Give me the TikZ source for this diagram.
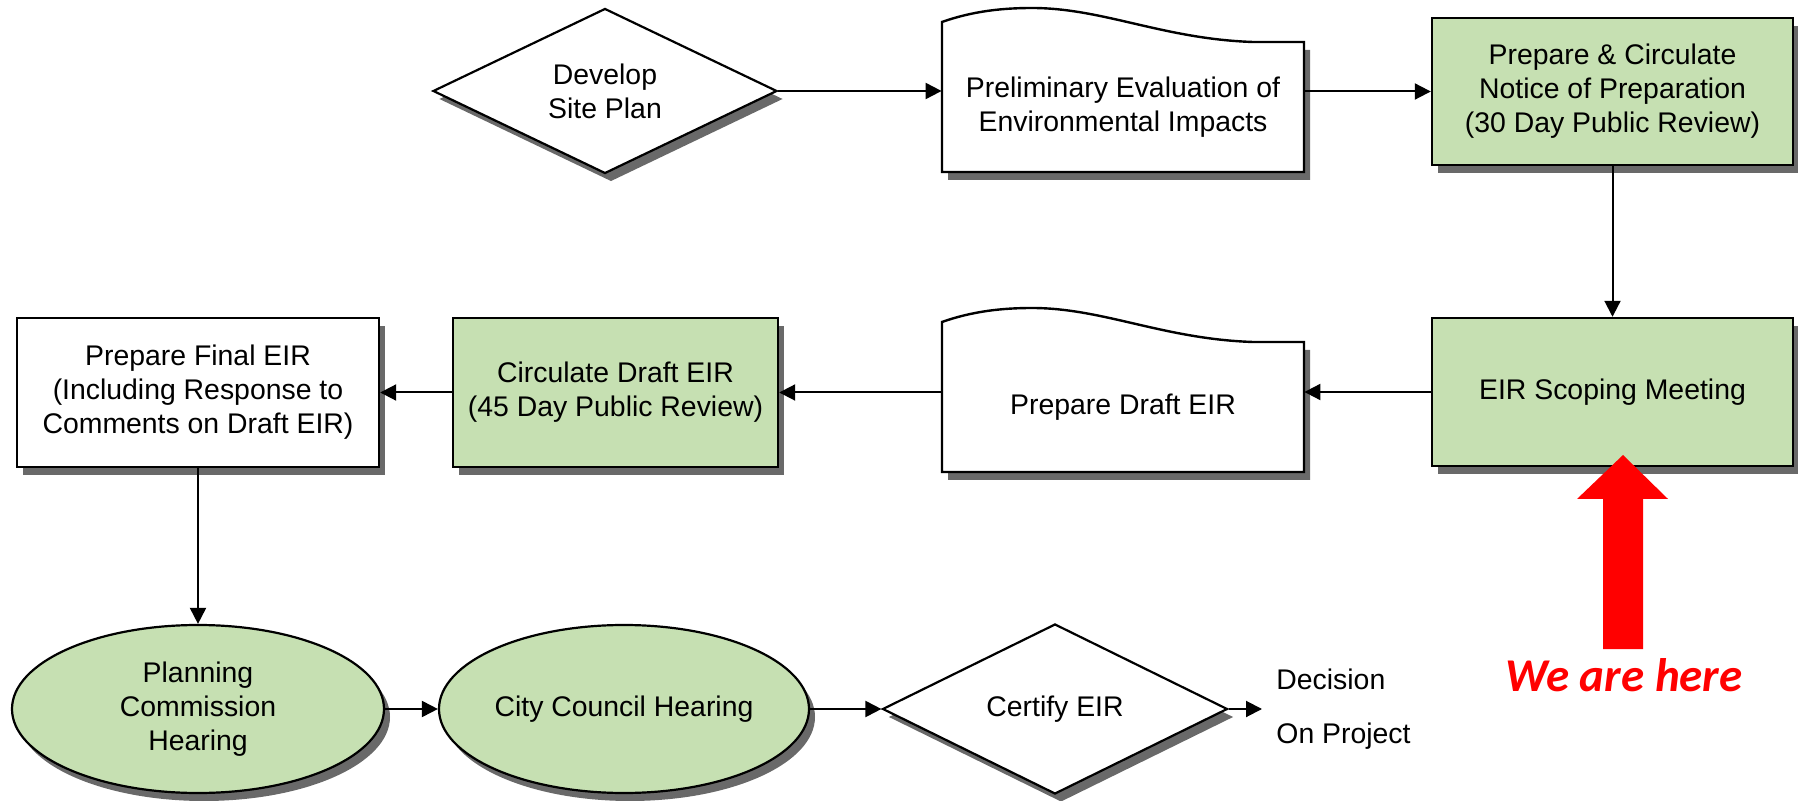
\documentclass[tikz,border=0pt]{standalone}
\usepackage{fontspec}
\setmainfont{Liberation Sans}
\newfontfamily\calibri{Carlito}
\usetikzlibrary{shapes.geometric,arrows.meta,calc,shadows}
\definecolor{boxgreen}{RGB}{198,224,178}
\definecolor{shadowgray}{RGB}{105,105,105}
\begin{document}
\begin{tikzpicture}[x=0.5pt,y=-0.5pt,
  every node/.style={font=\fontsize{14.2}{17}\selectfont, align=center, inner sep=0pt},
  shad/.style={drop shadow={shadow xshift=3pt,shadow yshift=-4pt,fill=shadowgray,opacity=1}},
  box/.style={rectangle, draw=black, line width=1.2pt, fill=white, shad},
  greenbox/.style={box, fill=boxgreen},
  dia/.style={diamond, draw=black, line width=1.1pt, fill=white, shad, shape aspect=2.08},
  oval/.style={ellipse, draw=black, line width=1.1pt, fill=boxgreen, shad},
  conn/.style={line width=1pt, -{Triangle[length=8pt,width=8pt]}},
  doc/.style={draw=black, line width=1.2pt, fill=white, shad, line join=miter},
  docpic/.pic={\draw[doc] (-181,65) -- (-181,-85) .. controls (-150,-96) and (-120,-99) .. (-91,-99) .. controls (-20,-99) and (40,-68) .. (130,-65) -- (181,-65) -- (181,65) -- cycle;},
]
\useasboundingbox (0,0) rectangle (1798,801);

% Row 1
\node[dia, minimum width=172pt, minimum height=82.5pt] (dev) at (605,91) {Develop\\Site Plan};
\pic at (1123,107) {docpic};
\node[minimum width=181pt, minimum height=65pt] (prelim) at (1123,107) {Preliminary Evaluation of\\Environmental Impacts};
\node[greenbox, minimum width=180.5pt, minimum height=73.5pt] (notice) at (1612.5,91.5) {Prepare \& Circulate\\Notice of Preparation\\(30 Day Public Review)};

% Row 2
\node[greenbox, minimum width=180.5pt, minimum height=74pt] (scoping) at (1612.5,392) {EIR Scoping Meeting};
\pic at (1123,407) {docpic};
\node[minimum width=181pt, minimum height=65pt] (draft) at (1123,407) {Prepare Draft EIR};
\node[greenbox, minimum width=162.5pt, minimum height=74.5pt] (circ) at (615.5,392.5) {Circulate Draft EIR\\(45 Day Public Review)};
\node[box, minimum width=181pt, minimum height=74.5pt] (final) at (198,392.5) {Prepare Final EIR\\(Including Response to\\Comments on Draft EIR)};

% Row 3
\node[oval, minimum width=186pt, minimum height=84pt] (pc) at (198,709) {Planning\\Commission\\Hearing};
\node[oval, minimum width=185pt, minimum height=84pt] (cc) at (624,709) {City Council Hearing};
\node[dia, minimum width=172.5pt, minimum height=85pt] (certify) at (1055,709) {Certify EIR};
\node[anchor=west, align=left, inner xsep=7pt, font=\fontsize{14.2}{27}\selectfont] (decision) at (1262,709) {Decision\\On Project};

% Connectors
\draw[conn] (dev.east) -- (prelim.west |- dev.east);
\draw[conn] (prelim.east |- notice.west) -- (notice.west);
\draw[conn] (notice.south) -- (scoping.north);
\draw[conn] (scoping.west) -- (draft.east |- scoping.west);
\draw[conn] (draft.west |- circ.east) -- (circ.east);
\draw[conn] (circ.west) -- (final.east);
\draw[conn] (final.south) -- (pc.north);
\draw[conn] (pc.east) -- (cc.west);
\draw[conn] (cc.east) -- (certify.west);
\draw[conn] (certify.east) -- (decision.west);

% Red pointer
\fill[red] (1603,649) -- (1603,499) -- (1577,499) -- (1623,455) -- (1668,499) -- (1643,499) -- (1643,649) -- cycle;
\node[font=\calibri\bfseries\itshape\fontsize{23.5}{28}\selectfont, text=red] (here) at (1624,675) {We are here};
\end{tikzpicture}
\end{document}
